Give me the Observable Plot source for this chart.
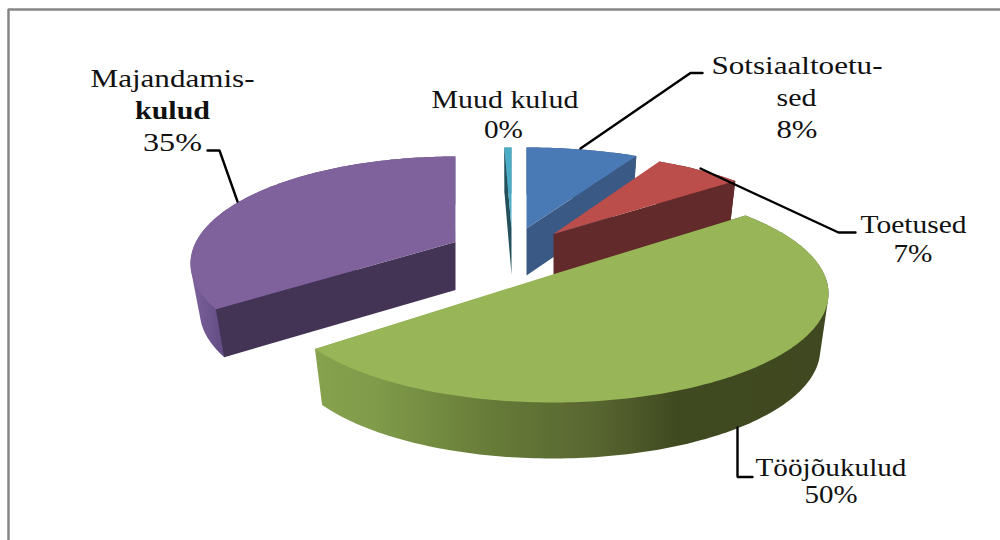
<!DOCTYPE html>
<html>
<head>
<meta charset="utf-8">
<style>html,body{margin:0;padding:0;background:#fff}svg{display:block}</style>
<script src="https://cdn.jsdelivr.net/npm/d3@7"></script>
<script src="https://cdn.jsdelivr.net/npm/@observablehq/plot@0.6"></script>
</head>
<body>
<div id="chart"></div>
<script>
// Chart values (percent) in drawing order, clockwise from 12 o'clock
const categories = ["Sotsiaaltoetused", "Toetused", "Tööjõukulud", "Majandamis-kulud", "Muud kulud"];
const shares = [7.9, 6.5, 49.8, 35.4, 0.4];

// Label text, broken as in the picture
const labelLines = [["Sotsiaaltoetu-", "sed"], ["Toetused"], ["Tööjõukulud"], ["Majandamis-", "kulud"], ["Muud kulud"]];

// Styles per slice
const topColors = ["#4a7ab5", "#bb4d4a", "#98b658", "#7f629c", "#4bacc6"];
const faceColors = ["#3a5a85", "#622a2a", "#3f4820", "#433355", "#23505c"];
const wallColors = ["#3a5a85", "#622a2a", "url(#greenWall)", "url(#purpleWall)", "#5a8590"];

// Projection of each exploded slice: ellipse centre, radii, tilt of the apex, extrusion depth,
// shrink of the lower rim, and the small angular nudges (degrees) the perspective gives its two cut edges
const views = [
  {cx: 526, cy: 245, rx: 270, ry: 98, e: 0.174, depth: 47, s: 0.97, n0: 0, n1: 0},
  {cx: 553, cy: 250.6, rx: 260, ry: 98, e: 0.174, depth: 46, s: 0.97, n0: 0, n1: 0},
  {cx: 552, cy: 293, rx: 276, ry: 109, e: 0.174, depth: 56, s: 0.97, n0: 0, n1: 0},
  {cx: 455, cy: 263, rx: 265, ry: 107, e: 0.2, depth: 48, s: 0.965, n0: 3.6, n1: 1.4},
  {cx: 511, cy: 245, rx: 340, ry: 98, e: 0.174, depth: 46, s: 0.97, n0: 0, n1: 0}
];

// Label layout: [slice, line] -> centre x, baseline y, rendered width
const labelLayout = [
  {slice: 0, line: 0, x: 796.5, y: 73, w: 171},
  {slice: 0, line: 1, x: 796, y: 105, w: 40},
  {slice: 0, line: 2, x: 796.5, y: 137, w: 41},
  {slice: 1, line: 0, x: 913, y: 232, w: 106},
  {slice: 1, line: 1, x: 912.5, y: 261, w: 39},
  {slice: 2, line: 0, x: 830.5, y: 475, w: 151},
  {slice: 2, line: 1, x: 830.5, y: 502, w: 53},
  {slice: 3, line: 0, x: 172, y: 86, w: 164},
  {slice: 3, line: 1, x: 172, y: 118, w: 75, bold: true},
  {slice: 3, line: 2, x: 172, y: 150, w: 59},
  {slice: 4, line: 0, x: 504.5, y: 107, w: 147},
  {slice: 4, line: 1, x: 503, y: 137, w: 39}
];

// Leader lines
const leaders = [
  {id: 0, pts: [[702, 72.5], [690, 72.5], [580, 148]]},
  {id: 1, pts: [[855, 232], [838, 232], [700, 168]]},
  {id: 2, pts: [[737, 427], [737, 476.5], [752, 476.5]]},
  {id: 3, pts: [[207, 150], [219, 150], [237, 201]]}
];

// Outer frame
const frameX = 8, frameY = 9;

const arcs = d3.pie().sort(null).value(d => d)(shares);
const deg = Math.PI / 180;

function project(v, A, lower) {
  const u = Math.sin(A), w = Math.cos(A), den = 1 + v.e * w;
  const U = u * Math.sqrt(1 - v.e * v.e) / den, W = (w + v.e) / den;
  return {x: v.cx + v.rx * (lower ? v.s : 1) * U, y: v.cy + (lower ? v.depth : 0) - v.ry * W};
}
function apex(v, lower) {
  return {x: v.cx, y: v.cy + (lower ? v.depth : 0) - v.e * v.ry};
}
function arcPoints(v, a0, a1, lower) {
  const n = Math.max(2, Math.ceil((a1 - a0) / deg));
  return d3.range(n + 1).map(i => project(v, a0 + (a1 - a0) * i / n, lower));
}

const sliceMarks = [];
[4, 0, 1, 3, 2].forEach(i => {
  const v = views[i], a = arcs[i];
  const a0 = a.startAngle + v.n0 * deg, a1 = a.endAngle + v.n1 * deg;
  // outer wall: the hull of both rims; the top surface and the cut face are painted over its inner part
  const up = arcPoints(v, a0, a1, false), lo = arcPoints(v, a0, a1, true);
  const hull = d3.polygonHull([...up, ...lo].map(p => [p.x, p.y]));
  sliceMarks.push(Plot.line(hull, {x: d => d[0], y: d => d[1], fill: wallColors[i], stroke: "none"}));
  // visible cut face
  const ang = (a0 > Math.PI && a0 < 2 * Math.PI) ? a0 : (a1 > 0 && a1 < Math.PI ? a1 : null);
  if (ang !== null) {
    const face = [apex(v, false), project(v, ang, false), project(v, ang, true), apex(v, true)];
    sliceMarks.push(Plot.line(face, {x: "x", y: "y", fill: faceColors[i], stroke: "none"}));
  }
  // top surface
  const top = [apex(v, false), ...up];
  sliceMarks.push(Plot.line(top, {x: "x", y: "y", fill: topColors[i], stroke: "none"}));
});

const labelRows = labelLayout.map(d => ({
  ...d,
  text: d.line < labelLines[d.slice].length ? labelLines[d.slice][d.line] : Math.round(shares[d.slice]) + "%"
}));
const leaderRows = leaders.flatMap(l => l.pts.map(p => ({id: l.id, x: p[0], y: p[1]})));
const font = {fontFamily: "'Liberation Serif', serif", fontSize: 26, textAnchor: "middle", lineAnchor: "bottom", fill: "#111"};

const plot = Plot.plot({
  width: 1000,
  height: 540,
  margin: 0,
  style: {background: "#fff"},
  x: {domain: [0, 1000], range: [0, 1000], axis: null},
  y: {domain: [0, 540], range: [0, 540], axis: null},
  marks: [
    Plot.ruleY([frameY], {x1: frameX, x2: 1000, stroke: "#868686", strokeWidth: 2.5}),
    Plot.ruleX([frameX], {y1: frameY, y2: 540, stroke: "#868686", strokeWidth: 2.5}),
    ...sliceMarks,
    Plot.line(leaderRows, {x: "x", y: "y", z: "id", stroke: "#000", strokeWidth: 2.4, strokeLinejoin: "miter"}),
    Plot.text(labelRows.filter(d => !d.bold), {x: "x", y: "y", text: "text", ...font}),
    Plot.text(labelRows.filter(d => d.bold), {x: "x", y: "y", text: "text", fontWeight: "bold", ...font})
  ]
});

// Horizontal extents of the labels and the wall shading
const svg = d3.select(plot);
svg.selectAll("text").each(function () {
  const t = this.textContent;
  const row = labelRows.find(r => r.text === t);
  if (row) d3.select(this).attr("textLength", row.w).attr("lengthAdjust", "spacingAndGlyphs");
});
const defs = svg.insert("defs", ":first-child");
function gradient(id, x1, x2, stops) {
  const g = defs.append("linearGradient").attr("id", id).attr("gradientUnits", "userSpaceOnUse")
    .attr("x1", x1).attr("x2", x2).attr("y1", 0).attr("y2", 0);
  stops.forEach(s => g.append("stop").attr("offset", s[0]).attr("stop-color", s[1]));
}
gradient("greenWall", 316, 830, [[0, "#87a24e"], [0.12, "#7f9a49"], [0.35, "#667a38"], [0.55, "#576530"], [0.7, "#404a20"], [1, "#3f4820"]]);
gradient("purpleWall", 190, 226, [[0, "#7d629c"], [1, "#5f4a80"]]);

document.getElementById("chart").append(plot);
</script>
</body>
</html>
